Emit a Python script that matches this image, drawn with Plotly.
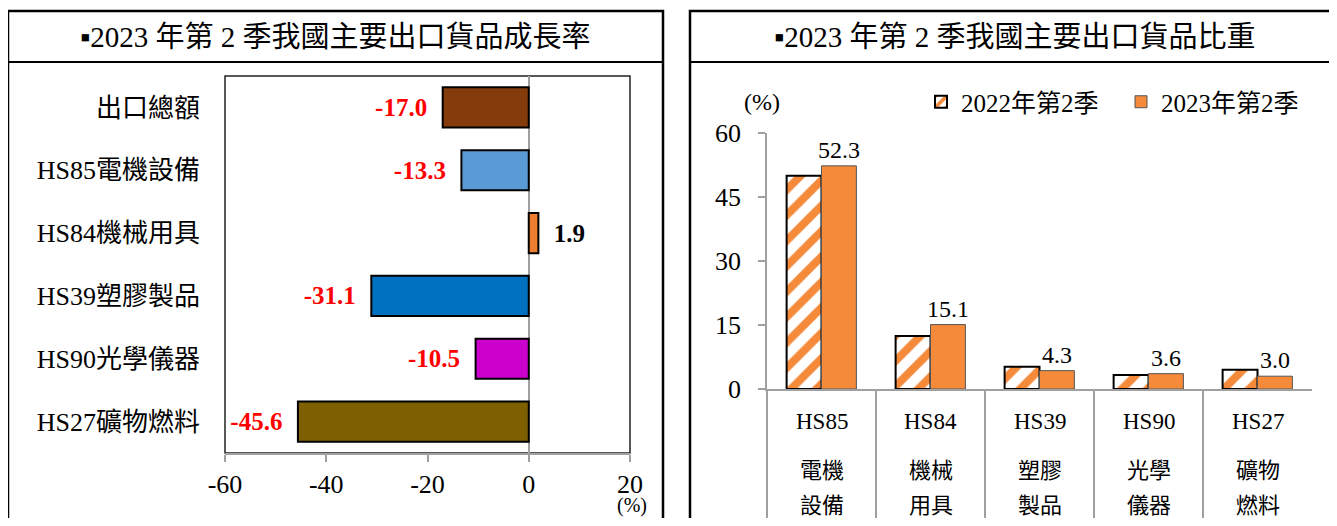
import plotly.graph_objects as go

# ---------------- data ----------------
growth_cats = ["出口總額", "HS85電機設備", "HS84機械用具", "HS39塑膠製品", "HS90光學儀器", "HS27礦物燃料"]
growth_vals = [-17.0, -13.3, 1.9, -31.1, -10.5, -45.6]
growth_colors = ["#843C0C", "#5B9BD5", "#ED7D31", "#0070C0", "#CC00CC", "#7F6000"]
growth_ticks = [-60, -40, -20, 0, 20]

share_codes = ["HS85", "HS84", "HS39", "HS90", "HS27"]
share_name_top = ["電機", "機械", "塑膠", "光學", "礦物"]
share_name_bot = ["設備", "用具", "製品", "儀器", "燃料"]
share_2022 = [50.0, 12.4, 5.2, 3.3, 4.5]
share_2023 = [52.3, 15.1, 4.3, 3.6, 3.0]
share_ticks = [0, 15, 30, 45, 60]
series_names = ["2022年第2季", "2023年第2季"]

left_title = "▪2023 年第 2 季我國主要出口貨品成長率"
right_title = "▪2023 年第 2 季我國主要出口貨品比重"

# the page body has an 8px margin, so the figure is drawn 8px in from the window corner
OFF = 8
W, H = 1337 - 2 * OFF, 526 - 2 * OFF
FONT = "Liberation Serif, 'Noto Sans CJK TC', serif"
ORANGE = "#F58A3B"


def px(x):
    return (x - OFF) / W


def py(y):
    return (H - (y - OFF)) / H


fig = go.Figure()

# ---------------- left: growth ----------------
label_text = [(f"{v:.1f}\u00a0\u00a0" if v < 0 else f"\u00a0\u00a0{v:.1f}") for v in growth_vals]
label_colors = ["#FF0000" if v < 0 else "#000000" for v in growth_vals]
fig.add_trace(go.Bar(
    x=growth_vals, y=growth_cats, orientation="h",
    marker=dict(color=growth_colors, line=dict(color="#000000", width=2)),
    text=label_text, textposition="outside", cliponaxis=False, constraintext="none",
    textfont=dict(family=FONT, size=25, color=label_colors, weight="bold"),
    showlegend=False, xaxis="x", yaxis="y",
))

# ---------------- right: share ----------------
fig.add_trace(go.Bar(
    x=share_codes, y=share_2022, name=series_names[0],
    marker=dict(color="#FFFFFF", line=dict(color="#000000", width=2),
                pattern=dict(shape="/", fgcolor=ORANGE, bgcolor="#FFFFFF", fgopacity=1,
                             size=18, solidity=0.45)),
    xaxis="x2", yaxis="y2",
))
fig.add_trace(go.Bar(
    x=share_codes, y=share_2023, name=series_names[1],
    marker=dict(color=ORANGE, line=dict(color="#555555", width=1)),
    text=[f"{v:.1f}" for v in share_2023], textposition="outside", cliponaxis=False,
    constraintext="none",
    textfont=dict(family=FONT, size=24, color="#000000"),
    xaxis="x2", yaxis="y2",
))

fig.update_layout(
    width=W, height=H,
    margin=dict(l=0, r=0, t=0, b=0, autoexpand=False),
    paper_bgcolor="#FFFFFF", plot_bgcolor="rgba(0,0,0,0)",
    barmode="group", bargap=0.36, bargroupgap=0,
    font=dict(family=FONT, color="#000000"),
    xaxis=dict(
        domain=[px(225), px(630)], anchor="y", automargin=False,
        range=[-60, 20], tickvals=growth_ticks, ticktext=[str(t) for t in growth_ticks],
        showgrid=False, zeroline=True, zerolinecolor="#A0A0A0", zerolinewidth=1.5,
        showline=True, linecolor="#A0A0A0", linewidth=1.5,
        ticks="outside", ticklen=7, tickcolor="#A0A0A0", tickwidth=1.5,
        tickfont=dict(family=FONT, size=26), ticklabelstandoff=0,
    ),
    yaxis=dict(
        domain=[py(453), py(76)], anchor="x", automargin=False,
        categoryorder="array", categoryarray=growth_cats, autorange="reversed",
        showgrid=False, showline=False, ticks="",
        tickfont=dict(family=FONT, size=26), ticklabelstandoff=24,
    ),
    xaxis2=dict(
        domain=[px(767), px(1312)], anchor="y2", automargin=False,
        showgrid=False, showline=True, linecolor="#A0A0A0", linewidth=1.5,
        ticks="outside", tickson="boundaries", ticklen=128, tickcolor="#A0A0A0", tickwidth=1.5,
        showticklabels=False,
    ),
    yaxis2=dict(
        domain=[py(389), py(133)], anchor="x2", automargin=False,
        range=[0, 60], tickvals=share_ticks, ticktext=[str(t) for t in share_ticks],
        showgrid=False, zeroline=False,
        showline=True, linecolor="#A0A0A0", linewidth=1.5,
        ticks="outside", ticklen=7, tickcolor="#A0A0A0", tickwidth=1.5,
        tickfont=dict(family=FONT, size=26), ticklabelstandoff=12,
    ),
    legend=dict(
        orientation="h", x=px(921), xanchor="left", y=py(102), yanchor="middle",
        font=dict(family=FONT, size=25), entrywidth=155, entrywidthmode="pixels",
        itemwidth=30, bgcolor="rgba(0,0,0,0)", traceorder="normal",
    ),
)

shapes = [
    # left panel
    dict(type="rect", xref="paper", yref="paper", x0=px(8), x1=px(663), y0=-0.05, y1=py(11),
         line=dict(color="#000000", width=2.5)),
    dict(type="line", xref="paper", yref="paper", x0=px(8), x1=px(663), y0=py(62), y1=py(62),
         line=dict(color="#000000", width=2)),
    # right panel
    dict(type="rect", xref="paper", yref="paper", x0=px(690), x1=1.05, y0=-0.05, y1=py(11),
         line=dict(color="#000000", width=2.5)),
    dict(type="line", xref="paper", yref="paper", x0=px(690), x1=1.0, y0=py(62), y1=py(62),
         line=dict(color="#000000", width=2)),
    # left plot frame
    dict(type="rect", xref="x domain", yref="y domain", x0=0, x1=1, y0=0, y1=1,
         line=dict(color="#222222", width=1.5), layer="below"),
]

annotations = [
    dict(text=left_title, xref="paper", yref="paper", x=px(335), y=py(37),
         showarrow=False, font=dict(family=FONT, size=29), xanchor="center", yanchor="middle"),
    dict(text=right_title, xref="paper", yref="paper", x=px(1015), y=py(37),
         showarrow=False, font=dict(family=FONT, size=29), xanchor="center", yanchor="middle"),
    dict(text="(%)", xref="paper", yref="paper", x=px(632), y=py(518), borderpad=0,
         showarrow=False, font=dict(family=FONT, size=20), xanchor="center", yanchor="bottom"),
    dict(text="(%)", xref="paper", yref="paper", x=px(762), y=py(102),
         showarrow=False, font=dict(family=FONT, size=24), xanchor="center", yanchor="middle"),
]
for code, top, bot in zip(share_codes, share_name_top, share_name_bot):
    annotations.append(dict(text=code, xref="x2", yref="paper", x=code, y=py(421), showarrow=False,
                            font=dict(family=FONT, size=23), yanchor="middle"))
    annotations.append(dict(text=top, xref="x2", yref="paper", x=code, y=py(470), showarrow=False,
                            font=dict(family=FONT, size=22), yanchor="middle"))
    annotations.append(dict(text=bot, xref="x2", yref="paper", x=code, y=py(505), showarrow=False,
                            font=dict(family=FONT, size=22), yanchor="middle"))

fig.update_layout(shapes=shapes, annotations=annotations)
fig.write_html("out.html")
